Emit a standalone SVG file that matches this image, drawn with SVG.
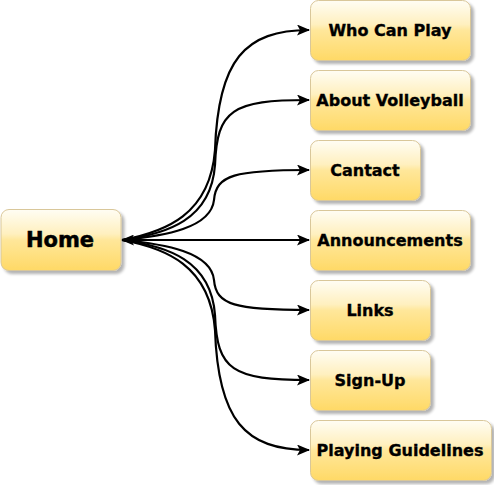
<svg xmlns="http://www.w3.org/2000/svg" width="494" height="485" viewBox="0 0 494 485">
<defs>
<linearGradient id="g" x1="0" y1="0" x2="0" y2="1">
<stop offset="0" stop-color="#fffdf4"/>
<stop offset="0.4" stop-color="#fff0bf"/>
<stop offset="0.5" stop-color="#ffe79a"/>
<stop offset="1" stop-color="#ffd966"/>
</linearGradient>
<filter id="sh" x="-10%" y="-10%" width="130%" height="140%">
<feGaussianBlur in="SourceAlpha" stdDeviation="1.5"/>
<feOffset dx="3" dy="3" result="b"/>
<feComponentTransfer><feFuncA type="linear" slope="0.3"/></feComponentTransfer>
<feMerge><feMergeNode/><feMergeNode in="SourceGraphic"/></feMerge>
</filter>
<marker id="ah" markerWidth="13" markerHeight="11" refX="12" refY="5.5" orient="auto-start-reverse" markerUnits="userSpaceOnUse">
<path d="M0,0 L13,5.5 L0,11 L3,5.5 Z" fill="#000"/>
</marker>
</defs>
<style>
.n rect{fill:url(#g);stroke:#d9c79a;stroke-width:1;filter:url(#sh)}
.n text{font-family:"DejaVu Sans",Verdana,sans-serif;font-weight:bold;font-size:16px;fill:#000;stroke:#000;stroke-width:0.35;text-anchor:middle;dominant-baseline:central}
.e path{fill:none;stroke:#000;stroke-width:2.2;marker-end:url(#ah)}
</style>
<g class="e" id="connectors">
<path d="M122,240 C165,232 210,215 215,150 C218,60 245,30 309,30"/>
<path d="M122,240 C167,234 211,220 215,165 C217,110 232,100 309,100"/>
<path d="M122,240 C165,236 211,228 214,200 C216,175 235,170 309,170"/>
<path d="M122,240 L309,240" marker-start="url(#ah)"/>
<path d="M122,240 C165,244 211,252 214,280 C216,305 235,310 309,310"/>
<path d="M122,240 C167,246 211,260 215,315 C217,370 232,380 309,380"/>
<path d="M122,240 C165,248 210,265 215,330 C218,420 245,450 309,450"/>
</g>
<g class="n" id="home"><rect x="1" y="209.5" width="120" height="61" rx="8"/><text x="60" y="240" style="font-size:21px;stroke-width:0.5">Home</text></g>
<g class="n" id="who"><rect x="310.5" y="0.5" width="160" height="60" rx="8"/><text x="390" y="30">Who Can Play</text></g>
<g class="n" id="about"><rect x="310.5" y="70.5" width="160" height="60" rx="8"/><text x="390" y="100">About Volleyball</text></g>
<g class="n" id="cantact"><rect x="310.5" y="140.5" width="110" height="60" rx="8"/><text x="365" y="170">Cantact</text></g>
<g class="n" id="announcements"><rect x="310.5" y="210.5" width="160" height="60" rx="8"/><text x="390" y="240">Announcements</text></g>
<g class="n" id="links"><rect x="310.5" y="280.5" width="120" height="60" rx="8"/><text x="370" y="310">Links</text></g>
<g class="n" id="signup"><rect x="310.5" y="350.5" width="120" height="60" rx="8"/><text x="370" y="380">Sign-Up</text></g>
<g class="n" id="guidelines"><rect x="310.5" y="420.5" width="181" height="60" rx="8"/><text x="400" y="450">Playing Guidelines</text></g>
</svg>
